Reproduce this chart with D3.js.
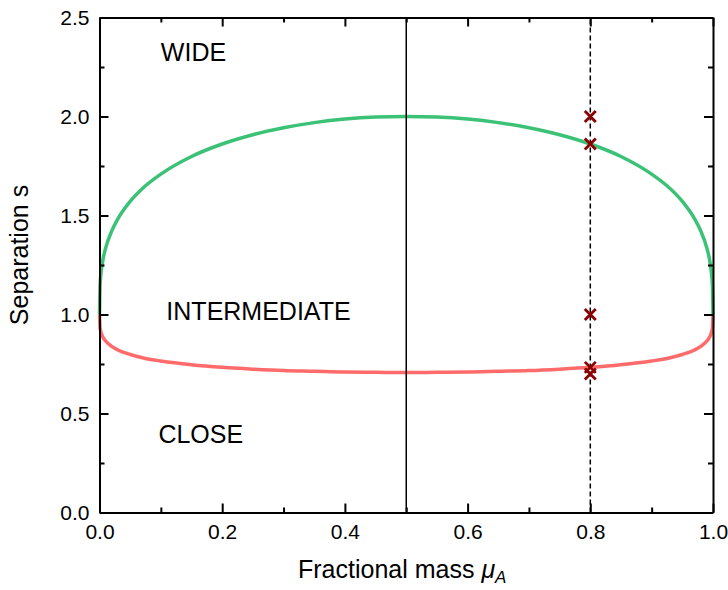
<!DOCTYPE html>
<html>
<head>
<meta charset="utf-8">
<script src="https://cdn.jsdelivr.net/npm/d3@7"></script>
<style>
  body { margin: 0; background: #fff; }
  text { font-family: "Liberation Sans", Arial, sans-serif; fill: #000; }
</style>
</head>
<body>
<div id="chart"></div>
<script>
// Data
const mu = [0, 0.001, 0.005, 0.01, 0.02, 0.03, 0.05, 0.075, 0.1, 0.15, 0.2, 0.25, 0.3, 0.35, 0.4, 0.45, 0.5,
            0.55, 0.6, 0.65, 0.7, 0.75, 0.8, 0.85, 0.9, 0.925, 0.95, 0.97, 0.98, 0.99, 0.995, 0.999, 1];
const wideBoundary = [1.0, 1.153, 1.265, 1.335, 1.422, 1.483, 1.571, 1.650, 1.709, 1.798, 1.861, 1.908, 1.943, 1.969, 1.987, 1.997, 2.0,
                      1.997, 1.987, 1.969, 1.943, 1.908, 1.861, 1.798, 1.709, 1.650, 1.571, 1.483, 1.422, 1.335, 1.265, 1.153, 1.0];
const closeBoundary = [1.0, 0.931, 0.889, 0.866, 0.839, 0.821, 0.798, 0.778, 0.765, 0.746, 0.733, 0.724, 0.717, 0.713, 0.709, 0.708, 0.707,
                       0.708, 0.709, 0.713, 0.717, 0.724, 0.733, 0.746, 0.765, 0.778, 0.798, 0.821, 0.839, 0.866, 0.889, 0.931, 1.0];
const markerMu = [0.8, 0.8, 0.8, 0.8, 0.8];
const markerS = [2.0, 1.861, 1.0, 0.733, 0.70];
const solidLineMu = 0.5;
const dashedLineMu = 0.8;
const xTicks = [0, 0.2, 0.4, 0.6, 0.8, 1.0];
const yTicks = [0, 0.5, 1.0, 1.5, 2.0, 2.5];
const regions = [
  { label: "WIDE", mu: 0.1, s: 2.28 },
  { label: "INTERMEDIATE", mu: 0.109, s: 0.97 },
  { label: "CLOSE", mu: 0.096, s: 0.35 }
];

const width = 728, height = 590;
const margin = { left: 99.5, right: 15, top: 17.5, bottom: 77.5 };

const svg = d3.select("#chart").append("svg")
  .attr("width", width)
  .attr("height", height);

const x = d3.scaleLinear().domain([0, 1]).range([margin.left, width - margin.right]);
const y = d3.scaleLinear().domain([0, 2.5]).range([height - margin.bottom, margin.top]);

// Curves
const line = d3.line()
  .x(d => x(d[0]))
  .y(d => y(d[1]))
  .curve(d3.curveMonotoneX);

svg.append("path")
  .datum(mu.map((m, i) => [m, wideBoundary[i]]))
  .attr("d", line)
  .attr("fill", "none")
  .attr("stroke", "#3cc277")
  .attr("stroke-width", 3.5);

svg.append("path")
  .datum(mu.map((m, i) => [m, closeBoundary[i]]))
  .attr("d", line)
  .attr("fill", "none")
  .attr("stroke", "#ff6b6b")
  .attr("stroke-width", 3.5);

// Vertical reference lines
svg.append("line")
  .attr("x1", x(solidLineMu)).attr("x2", x(solidLineMu))
  .attr("y1", y(0)).attr("y2", y(2.5))
  .attr("stroke", "#000").attr("stroke-width", 1.5);

svg.append("line")
  .attr("x1", x(dashedLineMu)).attr("x2", x(dashedLineMu))
  .attr("y1", y(0)).attr("y2", y(2.5))
  .attr("stroke", "#000").attr("stroke-width", 1.5)
  .attr("stroke-dasharray", "5,3");

// Markers
svg.append("g").selectAll("path")
  .data(markerMu.map((m, i) => [m, markerS[i]]))
  .join("path")
  .attr("d", "M-5.5,-5.5L5.5,5.5M-5.5,5.5L5.5,-5.5")
  .attr("transform", d => `translate(${x(d[0])},${y(d[1])})`)
  .attr("stroke", "#8b0000")
  .attr("stroke-width", 2.8)
  .attr("fill", "none");

// Axes (inward ticks, boxed frame)
const fmt = d3.format(".1f");
const xMinor = d3.range(0.1, 1, 0.2);
const yMinor = d3.range(0.25, 2.5, 0.5);

function styleAxis(g) {
  g.select(".domain").attr("stroke-width", 2);
  g.selectAll(".tick line").attr("stroke-width", 2);
  g.selectAll("text").style("font-size", "21px").style("font-family", "'Liberation Sans', Arial, sans-serif");
}

svg.append("g")
  .attr("transform", `translate(0,${y(0)})`)
  .call(d3.axisBottom(x).tickValues(xTicks).tickFormat(fmt).tickSizeInner(-9).tickSizeOuter(0).tickPadding(12))
  .call(styleAxis);
svg.append("g")
  .attr("transform", `translate(0,${y(0)})`)
  .call(d3.axisBottom(x).tickValues(xMinor).tickFormat("").tickSizeInner(-5).tickSizeOuter(0))
  .call(g => g.select(".domain").remove())
  .call(styleAxis);

svg.append("g")
  .attr("transform", `translate(0,${y(2.5)})`)
  .call(d3.axisTop(x).tickValues(xTicks).tickFormat("").tickSizeInner(-9).tickSizeOuter(0))
  .call(styleAxis);
svg.append("g")
  .attr("transform", `translate(0,${y(2.5)})`)
  .call(d3.axisTop(x).tickValues(xMinor).tickFormat("").tickSizeInner(-5).tickSizeOuter(0))
  .call(g => g.select(".domain").remove())
  .call(styleAxis);

svg.append("g")
  .attr("transform", `translate(${x(0)},0)`)
  .call(d3.axisLeft(y).tickValues(yTicks).tickFormat(fmt).tickSizeInner(-9).tickSizeOuter(0).tickPadding(10))
  .call(styleAxis);
svg.append("g")
  .attr("transform", `translate(${x(0)},0)`)
  .call(d3.axisLeft(y).tickValues(yMinor).tickFormat("").tickSizeInner(-5).tickSizeOuter(0))
  .call(g => g.select(".domain").remove())
  .call(styleAxis);

svg.append("g")
  .attr("transform", `translate(${x(1)},0)`)
  .call(d3.axisRight(y).tickValues(yTicks).tickFormat("").tickSizeInner(-9).tickSizeOuter(0))
  .call(styleAxis);
svg.append("g")
  .attr("transform", `translate(${x(1)},0)`)
  .call(d3.axisRight(y).tickValues(yMinor).tickFormat("").tickSizeInner(-5).tickSizeOuter(0))
  .call(g => g.select(".domain").remove())
  .call(styleAxis);

// Region labels
svg.append("g").selectAll("text")
  .data(regions)
  .join("text")
  .attr("x", d => x(d.mu))
  .attr("y", d => y(d.s))
  .style("font-size", "25px")
  .text(d => d.label);

// Axis titles
const xTitle = svg.append("text")
  .attr("x", 298)
  .attr("y", 578)
  .style("font-size", "25px");
xTitle.append("tspan").text("Fractional mass ");
xTitle.append("tspan").style("font-style", "italic").text("\u03bc");
xTitle.append("tspan").style("font-style", "italic").style("font-size", "17px").attr("dy", 5).text("A");

svg.append("text")
  .attr("transform", "translate(28,255) rotate(-90)")
  .attr("text-anchor", "middle")
  .style("font-size", "25px")
  .text("Separation s");
</script>
</body>
</html>
